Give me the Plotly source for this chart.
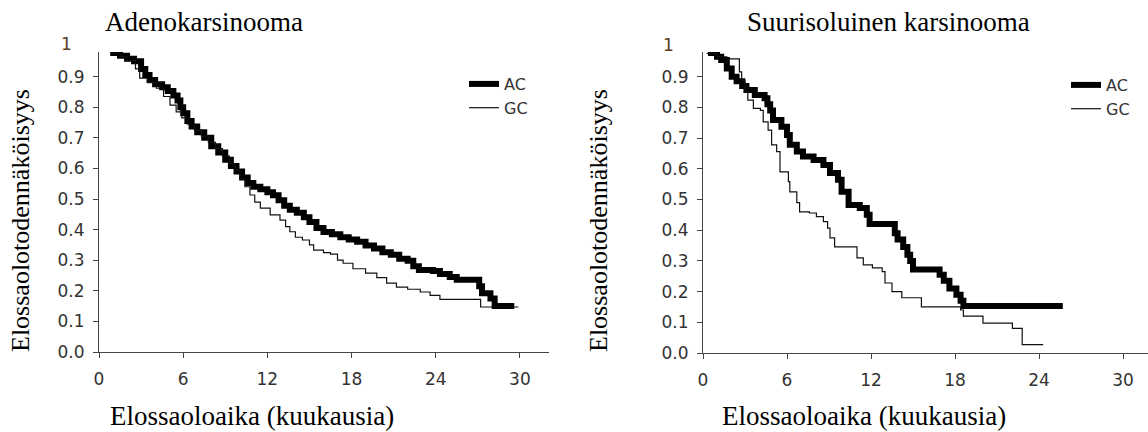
import plotly.graph_objects as go

W, H = 1148, 432

# ---------------- data ----------------
x_ticks = [0, 6, 12, 18, 24, 30]
y_ticks = [0.0, 0.1, 0.2, 0.3, 0.4, 0.5, 0.6, 0.7, 0.8, 0.9]
y_ticklabels = ["0.0", "0.1", "0.2", "0.3", "0.4", "0.5", "0.6", "0.7", "0.8", "0.9"]
series_names = ["AC", "GC"]
panel_titles = ["Adenokarsinooma", "Suurisoluinen karsinooma"]
x_title = "Elossaoloaika (kuukausia)"
y_title = "Elossaolotodennäköisyys"

# Adenokarsinooma - AC
adeno_ac_t = [0.8, 1.5, 2.0, 2.5, 3.0, 3.3, 3.6, 4.0, 4.5, 4.9, 5.3, 5.6, 5.8, 6.0, 6.3,
              6.6, 7.0, 7.5, 8.0, 8.5, 9.0, 9.4, 9.8, 10.2, 10.6, 11.0, 11.5, 12.0, 12.4,
              12.8, 13.2, 13.6, 14.1, 14.6, 15.0, 15.5, 16.0, 16.6, 17.2, 17.8, 18.4, 19.0,
              19.6, 20.2, 20.8, 21.4, 22.0, 22.4, 22.8, 23.8, 24.3, 25.0, 25.5, 26.9, 27.1,
              27.3, 27.9, 28.2, 29.6]
adeno_ac_s = [0.977, 0.968, 0.958, 0.950, 0.925, 0.905, 0.889, 0.875, 0.865, 0.853, 0.838,
              0.822, 0.800, 0.780, 0.755, 0.737, 0.718, 0.700, 0.672, 0.652, 0.628, 0.608,
              0.590, 0.570, 0.552, 0.540, 0.532, 0.522, 0.512, 0.496, 0.478, 0.465, 0.455,
              0.440, 0.425, 0.405, 0.392, 0.385, 0.375, 0.368, 0.360, 0.348, 0.338, 0.326,
              0.318, 0.305, 0.298, 0.280, 0.268, 0.265, 0.255, 0.245, 0.236, 0.236, 0.215,
              0.192, 0.175, 0.150, 0.150]

# Adenokarsinooma - GC
adeno_gc_t = [0.8, 1.5, 2.0, 2.6, 2.9, 3.5, 4.1, 4.6, 5.06, 5.5, 5.9, 6.3, 6.8, 7.3, 7.8,
              8.3, 8.8, 9.3, 9.7, 10.05, 10.4, 10.76, 11.1, 11.5, 12.2, 12.9, 13.3, 13.6,
              14.0, 14.5, 15.0, 15.3, 16.0, 16.5, 17.0, 17.4, 18.1, 19.0, 19.8, 20.5, 21.2,
              22.0, 22.9, 23.6, 24.3, 27.2, 29.9]
adeno_gc_s = [0.977, 0.965, 0.952, 0.925, 0.895, 0.880, 0.862, 0.835, 0.807, 0.785, 0.765,
              0.745, 0.725, 0.705, 0.685, 0.665, 0.640, 0.615, 0.595, 0.567, 0.540, 0.513,
              0.490, 0.470, 0.448, 0.431, 0.410, 0.393, 0.375, 0.366, 0.350, 0.333, 0.325,
              0.320, 0.300, 0.290, 0.272, 0.258, 0.243, 0.225, 0.212, 0.205, 0.196, 0.185,
              0.172, 0.147, 0.147]

# Suurisoluinen karsinooma - AC
large_ac_t = [0.36, 1.0, 1.3, 1.7, 2.05, 2.4, 2.8, 3.1, 3.7, 4.4, 4.6, 4.8, 5.0, 5.6, 6.0,
              6.2, 6.7, 7.14, 7.9, 8.6, 9.07, 9.64, 9.9, 10.4, 11.2, 11.7, 11.9, 13.7, 13.9,
              14.3, 14.6, 14.8, 15.0, 16.9, 17.2, 17.6, 18.1, 18.4, 18.6, 25.7]
large_ac_s = [0.977, 0.965, 0.954, 0.927, 0.900, 0.885, 0.870, 0.857, 0.840, 0.830, 0.810,
              0.790, 0.759, 0.737, 0.710, 0.678, 0.656, 0.640, 0.629, 0.612, 0.586, 0.564,
              0.525, 0.482, 0.472, 0.450, 0.420, 0.390, 0.370, 0.345, 0.320, 0.300, 0.272,
              0.255, 0.235, 0.210, 0.190, 0.170, 0.153, 0.153]

# Suurisoluinen karsinooma - GC
large_gc_t = [0.26, 1.0, 1.7, 2.6, 2.76, 3.0, 3.2, 3.6, 4.1, 4.3, 4.65, 4.9, 5.26, 5.5, 6.1,
              6.2, 6.7, 6.9, 7.6, 8.1, 8.6, 8.9, 9.07, 9.4, 11.0, 11.45, 12.1, 12.8, 13.0,
              13.5, 14.2, 15.6, 18.4, 18.6, 20.0, 22.1, 22.8, 24.3]
large_gc_s = [0.976, 0.965, 0.958, 0.916, 0.889, 0.851, 0.824, 0.797, 0.790, 0.753, 0.726,
              0.678, 0.656, 0.590, 0.558, 0.525, 0.490, 0.460, 0.456, 0.444, 0.428, 0.407,
              0.375, 0.346, 0.310, 0.287, 0.277, 0.265, 0.228, 0.200, 0.180, 0.150, 0.140,
              0.120, 0.097, 0.080, 0.027, 0.027]

# ---------------- figure ----------------
fig = go.Figure()
thick = dict(color="black", width=6, shape="hv")
thin = dict(color="#111111", width=1.2, shape="hv")

fig.add_trace(go.Scatter(x=adeno_ac_t, y=adeno_ac_s, mode="lines", line=thick,
                         name=series_names[0], xaxis="x", yaxis="y", legend="legend"))
fig.add_trace(go.Scatter(x=adeno_gc_t, y=adeno_gc_s, mode="lines", line=thin,
                         name=series_names[1], xaxis="x", yaxis="y", legend="legend"))
fig.add_trace(go.Scatter(x=large_ac_t, y=large_ac_s, mode="lines", line=thick,
                         name=series_names[0], xaxis="x2", yaxis="y2", legend="legend2"))
fig.add_trace(go.Scatter(x=large_gc_t, y=large_gc_s, mode="lines", line=thin,
                         name=series_names[1], xaxis="x2", yaxis="y2", legend="legend2"))

tick_font = dict(family="DejaVu Sans", size=17, color="#333333")
legend_font = dict(family="DejaVu Sans", size=16, color="#333333")
serif_font = dict(family="Liberation Serif", size=27, color="black")

common = dict(showline=True, linecolor="#444444", linewidth=1, ticks="outside",
              ticklen=5, tickcolor="#444444", tickwidth=1, showgrid=False,
              zeroline=False, tickfont=tick_font, automargin=False)

fig.update_layout(
    width=W, height=H,
    margin=dict(l=0, r=0, t=0, b=0),
    paper_bgcolor="white", plot_bgcolor="white",
    xaxis=dict(domain=[99 / W, 549 / W], range=[0, (549 - 99) / 14.03],
               tickvals=x_ticks, anchor="y", ticklabelstandoff=7, **common),
    yaxis=dict(domain=[80 / H, 380 / H], range=[0, 300 / 306],
               tickvals=y_ticks, ticktext=y_ticklabels, anchor="x",
               ticklabelstandoff=5, **common),
    xaxis2=dict(domain=[703 / W, 1.0], range=[0, (W - 703) / 14.0],
                tickvals=x_ticks, anchor="y2", ticklabelstandoff=7, **common),
    yaxis2=dict(domain=[79 / H, 380 / H], range=[0, 301 / 307],
                tickvals=y_ticks, ticktext=y_ticklabels, anchor="x2",
                ticklabelstandoff=5, **common),
    legend=dict(x=464 / W, y=1 - 67 / H, xanchor="left", yanchor="top",
                bgcolor="rgba(0,0,0,0)", font=legend_font, tracegroupgap=0),
    legend2=dict(x=1066 / W, y=1 - 68 / H, xanchor="left", yanchor="top",
                 bgcolor="rgba(0,0,0,0)", font=legend_font, tracegroupgap=0),
    showlegend=True,
)

annotations = [
    dict(text=panel_titles[0], x=204 / W, y=1 - 22 / H, xref="paper", yref="paper",
         showarrow=False, font=serif_font, xanchor="center", yanchor="middle"),
    dict(text=panel_titles[1], x=888 / W, y=1 - 22 / H, xref="paper", yref="paper",
         showarrow=False, font=serif_font, xanchor="center", yanchor="middle"),
    dict(text=x_title, x=252 / W, y=1 - 416 / H, xref="paper", yref="paper",
         showarrow=False, font=serif_font, xanchor="center", yanchor="middle"),
    dict(text=x_title, x=864 / W, y=1 - 416 / H, xref="paper", yref="paper",
         showarrow=False, font=serif_font, xanchor="center", yanchor="middle"),
    dict(text=y_title, x=20 / W, y=1 - 221 / H, xref="paper", yref="paper",
         showarrow=False, font=dict(family="Liberation Serif", size=26, color="black"),
         textangle=-90, xanchor="center", yanchor="middle"),
    dict(text=y_title, x=598 / W, y=1 - 221 / H, xref="paper", yref="paper",
         showarrow=False, font=dict(family="Liberation Serif", size=26, color="black"),
         textangle=-90, xanchor="center", yanchor="middle"),
    dict(text="1", x=59 / W, y=1 - 44 / H, xref="paper", yref="paper",
         showarrow=False, font=dict(family="DejaVu Sans", size=17, color="#5a3d22"),
         xanchor="left", yanchor="middle"),
    dict(text="1", x=661 / W, y=1 - 45 / H, xref="paper", yref="paper",
         showarrow=False, font=dict(family="DejaVu Sans", size=17, color="#5a3d22"),
         xanchor="left", yanchor="middle"),
]
fig.update_layout(annotations=annotations)

fig.write_html(
    "out.html",
    config={"displayModeBar": False},
    post_script="document.body.style.margin='0';document.body.style.padding='0';"
                "document.body.style.overflow='hidden';",
)
